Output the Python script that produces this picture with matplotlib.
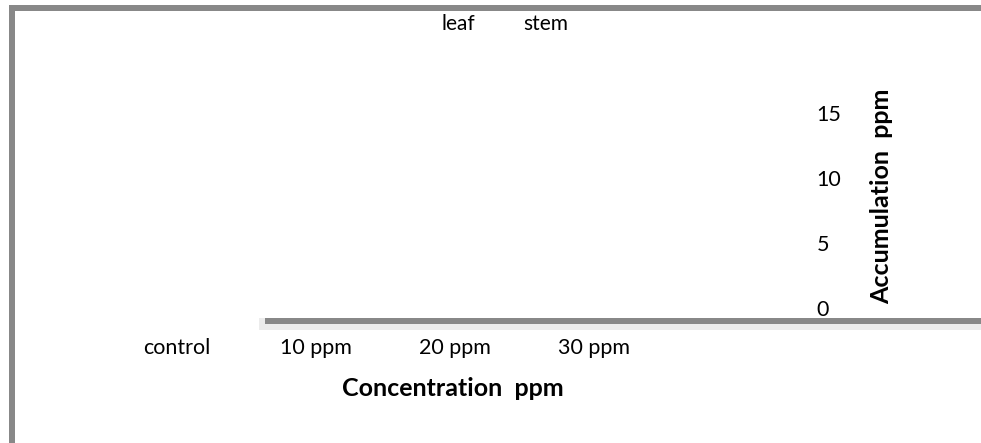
import numpy as np
import matplotlib
matplotlib.use('Agg')
import matplotlib.pyplot as plt
from matplotlib.patches import Rectangle
from matplotlib.lines import Line2D

# data (no bars are visible in the chart, so every value reads as 0)
categories = ['control', '10 ppm', '20 ppm', '30 ppm']
leaf = [0, 0, 0, 0]
stem = [0, 0, 0, 0]
yticks = [0, 5, 10, 15]

plt.rcParams['font.family'] = ['Lato', 'DejaVu Sans']

W, H = 981, 443
fig = plt.figure(figsize=(W / 100, H / 100), dpi=100)
fig.patch.set_facecolor('white')

# axes placed in pixels: first category at px 177, 139 px per category
px_unit = 139.0
x0_px = 177
left_px, right_px = x0_px - 0.5 * px_unit, 990
y0_px, y_per = 307.7, 12.96          # pixel of value 0, px per unit
bottom_val = -(321 - y0_px) / y_per
top_val = 20
top_px = y0_px - top_val * y_per
ax = fig.add_axes([left_px / W, 1 - 321 / H,
                   (right_px - left_px) / W, (321 - top_px) / H])
ax.patch.set_visible(False)

x = np.arange(len(categories))
w = 0.35
ax.bar(x - w / 2, leaf, w, color='#4472C4', linewidth=0, label='leaf')
ax.bar(x + w / 2, stem, w, color='#ED7D31', linewidth=0, label='stem')

ax.set_xlim(-0.5, -0.5 + (right_px - left_px) / px_unit)
ax.set_ylim(bottom_val, top_val)

ax.set_xticks(x)
ax.set_xticklabels(categories)
ax.set_yticks(yticks)
ax.tick_params(axis='both', length=0, labelsize=15.5, colors='black')
ax.tick_params(axis='x', pad=12)
ax.tick_params(axis='y', pad=2)

# y axis sits on the right, inside the plot
ax.yaxis.tick_right()
ax.spines['right'].set_position(('data', (814 - x0_px) / px_unit))
ax.spines['right'].set_color('none')
ax.spines['left'].set_visible(False)
ax.spines['top'].set_visible(False)

bsp = ax.spines['bottom']
bsp.set_color('#888888')
bsp.set_linewidth(6 * 0.72)
bsp.set_capstyle('butt')
bsp.set_bounds((265 - x0_px) / px_unit, ax.get_xlim()[1])

# light shadow under the axis line
fig.add_artist(Line2D([259 / W, 1.02], [1 - 324 / H] * 2, color='#ececec',
                      linewidth=12 * 0.72, solid_capstyle='butt', zorder=-1))

ax.set_xlabel('Concentration  ppm', fontsize=18, fontweight='bold')
ax.xaxis.set_label_coords((453 - left_px) / (right_px - left_px),
                          -(389 - 321) / (321 - top_px))
ax.xaxis.label.set_va('center')

ax.yaxis.set_label_position('right')
ax.set_ylabel('Accumulation  ppm', fontsize=18, fontweight='bold', rotation=90)
ax.yaxis.set_label_coords((882 - left_px) / (right_px - left_px),
                          (321 - 196) / (321 - top_px))
ax.yaxis.label.set_va('center')
ax.yaxis.label.set_ha('center')

leg = ax.legend(loc='center', bbox_to_anchor=(505 / W, 1 - 24 / H),
                bbox_transform=fig.transFigure, frameon=False, ncol=2,
                handlelength=0, handletextpad=0, columnspacing=2.3,
                fontsize=15)

# outer frame
fig.add_artist(Rectangle((11.5 / W, -0.1), 1.2, (H - 8) / H + 0.1,
                         transform=fig.transFigure, fill=False,
                         edgecolor='#888888', linewidth=6 * 0.72))

fig.savefig('out.png', dpi=100)
